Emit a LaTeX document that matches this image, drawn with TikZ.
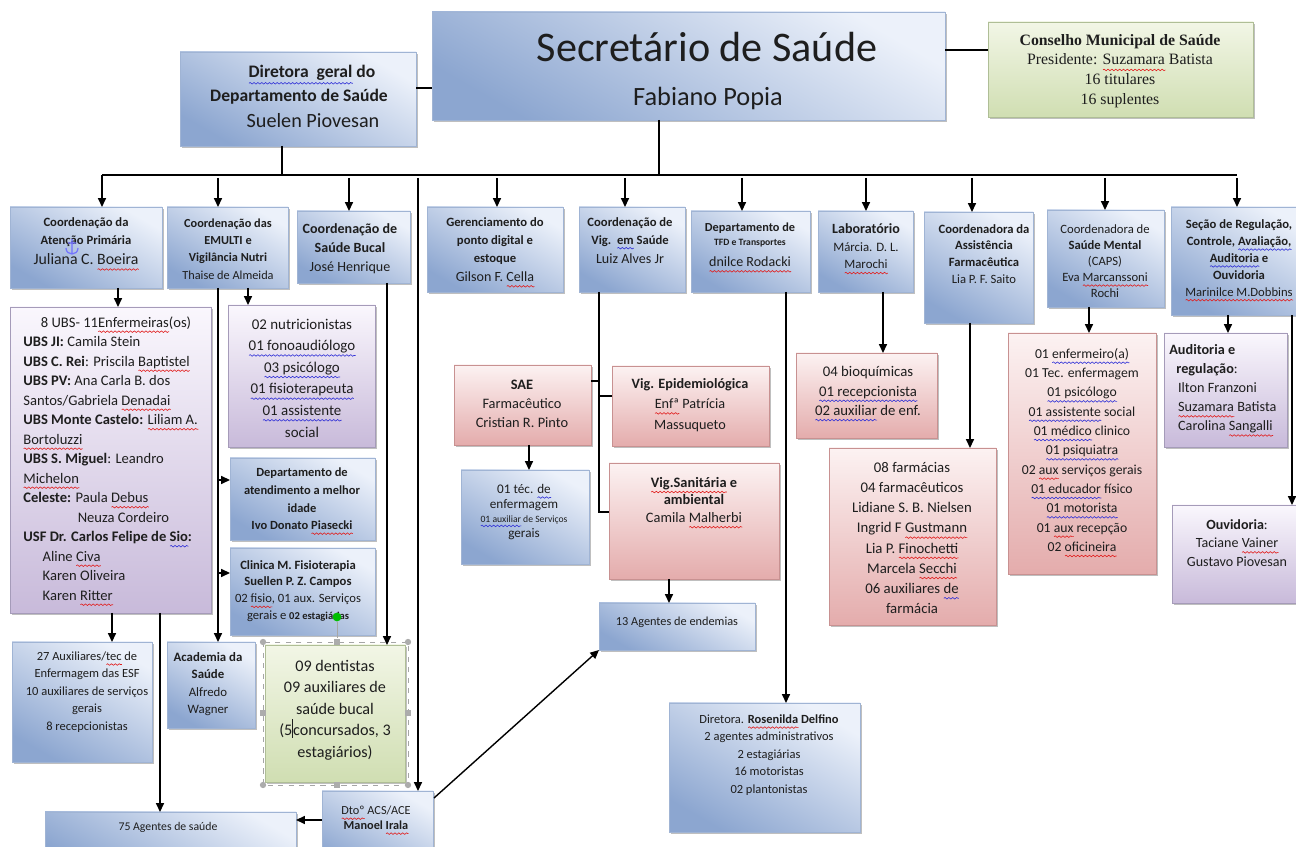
\documentclass[tikz,border=0pt]{standalone}
\usepackage{fontspec}
\setmainfont{Carlito}
\newfontfamily\cmsfont{Liberation Serif}
\usetikzlibrary{shadows,fit,arrows.meta,calc,decorations.pathmorphing}

\definecolor{bD}{RGB}{140,166,208}
\definecolor{bL}{RGB}{236,241,250}
\definecolor{bE}{RGB}{160,180,212}
\definecolor{pD}{RGB}{228,172,172}
\definecolor{pL}{RGB}{252,242,242}
\definecolor{pE}{RGB}{200,145,145}
\definecolor{lD}{RGB}{200,186,218}
\definecolor{lL}{RGB}{250,247,253}
\definecolor{lE}{RGB}{165,155,185}
\definecolor{gD}{RGB}{208,222,178}
\definecolor{gL}{RGB}{242,246,230}
\definecolor{gE}{RGB}{175,190,150}
\definecolor{txc}{RGB}{30,30,30}
\definecolor{sqr}{RGB}{225,30,30}
\definecolor{sqb}{RGB}{50,50,215}

\newsavebox\sqbox
\newcommand\wv[2]{\sbox\sqbox{#2}\leavevmode\rlap{\raisebox{-0.32em}[0pt][0pt]{\tikz[baseline=0pt]\draw[#1,line width=0.35pt,decorate,decoration={snake,amplitude=0.45pt,segment length=2.2pt}] (0pt,0pt) -- (\the\wd\sqbox,0pt);}}\usebox\sqbox}
\newcommand\rw[1]{\wv{sqr}{#1}}
\newcommand\bw[1]{\wv{sqb}{#1}}

\tikzset{
 box/.style={draw, line width=0.4pt, inner sep=0pt, outer sep=0pt,
   drop shadow={shadow xshift=1.3pt, shadow yshift=-1.3pt, opacity=0.55, fill=black!45}},
 bluebox/.style={box, draw=bE, top color=bL, bottom color=bD, shading angle=-30},
 pinkbox/.style={box, draw=pE, top color=pL, bottom color=pD},
 lavbox/.style={box, draw=lE, top color=lL, bottom color=lD},
 greenbox/.style={box, draw=gE, top color=gL, bottom color=gD},
 txt/.style={align=center, inner sep=0pt, text=txc},
 ln/.style={line width=0.8pt, black},
 arr/.style={ln, -{Triangle[length=5pt,width=4.5pt]}},
 handle/.style={fill=gray!65, inner sep=0pt, minimum size=3.6pt},
}

\begin{document}
\begin{tikzpicture}[x=0.02cm,y=-0.02cm]
\useasboundingbox (0,0) rectangle (1296,847);
\clip (0,0) rectangle (1296,847);
\fill[white] (0,0) rectangle (1296,847);

% ---------- boxes ----------
\node[bluebox, fit={(432,12) (945,120)}] (sec) {};
\node[greenbox, fit={(988,22) (1253,117)}] (cms) {};
\node[bluebox, fit={(180,52) (416,146)}] (dir) {};
\node[bluebox, fit={(10,207) (162,288)}] (atn) {};
\node[bluebox, fit={(167,207) (288,288)}] (emu) {};
\node[bluebox, fit={(297,211) (410,283)}] (buc) {};
\node[bluebox, fit={(427,207) (563,292)}] (ger) {};
\node[bluebox, fit={(579,207) (685,292)}] (vig) {};
\node[bluebox, fit={(691,211) (810,292)}] (tfd) {};
\node[bluebox, fit={(818,211) (913,292)}] (lab) {};
\node[bluebox, fit={(924,212) (1033,323)}] (far) {};
\node[bluebox, fit={(1047,210) (1164,307)}] (men) {};
\node[bluebox, fit={(1171,207) (1310,315)}] (reg) {};
\node[lavbox, fit={(10,307) (211,613)}] (ubs) {};
\node[lavbox, fit={(228,305) (375,447)}] (nut) {};
\node[bluebox, fit={(230,458) (375,540)}] (mid) {};
\node[bluebox, fit={(230,548) (375,635)}] (cli) {};
\node[bluebox, fit={(167,642) (255,728)}] (aca) {};
\node[bluebox, fit={(12,642) (152,762)}] (aux) {};
\node[greenbox, fit={(265,645) (405,782)}] (den) {};
\node[bluebox, fit={(45,812) (296,870)}] (age) {};
\node[bluebox, fit={(322,791) (433,870)}] (acs) {};
\node[pinkbox, fit={(454,365) (591,445)}] (sae) {};
\node[pinkbox, fit={(612,366) (769,446)}] (epi) {};
\node[bluebox, fit={(461,470) (589,564)}] (tec) {};
\node[pinkbox, fit={(609,463) (779,579)}] (san) {};
\node[bluebox, fit={(599,603) (755,650)}] (end) {};
\node[bluebox, fit={(669,703) (860,832)}] (ros) {};
\node[pinkbox, fit={(796,353) (937,438)}] (bio) {};
\node[pinkbox, fit={(829,448) (996,625)}] (fms) {};
\node[pinkbox, fit={(1008,333) (1156,574)}] (msf) {};
\node[lavbox, fit={(1164,333) (1287,447)}] (aud) {};
\node[lavbox, fit={(1172,505) (1310,603)}] (ouv) {};

% ---------- texts ----------
\node[txt, font=\fontsize{24}{28}\selectfont] (secA) at (707,47) {Secretário de Saúde};
\node[txt, font=\fontsize{15}{18}\selectfont] (secB) at (708,98) {Fabiano Popia};
\node[txt, font=\cmsfont\fontsize{9}{11.3}\selectfont] (cmsT) at (1120,71)
  {\textbf{Conselho Municipal de Saúde}\\Presidente: \rw{Suzamara} Batista\\16 titulares\\16 suplentes};
\node[txt, font=\bfseries\fontsize{10}{12}\selectfont] (dirA) at (312,73) {\bw{Diretora\ \ geral} do};
\node[txt, font=\bfseries\fontsize{10}{12}\selectfont] (dirB) at (299,97) {Departamento de Saúde};
\node[txt, font=\fontsize{11.5}{14}\selectfont] (dirC) at (313,121) {Suelen Piovesan};

\node[txt, font=\bfseries\fontsize{7.2}{10}\selectfont] (atnA) at (86,232) {Coordenação da\\Atenção Primária};
\node[txt, font=\fontsize{9}{11}\selectfont] (atnB) at (86,259) {Juliana C. \rw{Boeira}};
% Word anchor mark
\draw[blue!55, line width=0.7pt] (72,239) -- (72,254)
  (68,243) -- (76,243)
  (66,248) .. controls (66,256) and (78,256) .. (78,248);

\node[txt, font=\fontsize{7}{9.8}\selectfont] (emuT) at (228,249)
  {\textbf{Coordenação das}\\\textbf{EMULTI e}\\\textbf{Vigilância Nutri}\\Thaise de Almeida};
\node[txt, font=\fontsize{8}{10.8}\selectfont] (bucT) at (350,249)
  {\textbf{Coordenação de}\\\textbf{Saúde Bucal}\\José Henrique};
\node[txt, font=\bfseries\fontsize{7.2}{10}\selectfont] (gerA) at (495,241) {Gerenciamento do\\ponto digital e\\estoque};
\node[txt, font=\fontsize{8}{10}\selectfont] (gerB) at (495,277) {Gilson F. \rw{Cella}};
\node[txt, font=\bfseries\fontsize{7.2}{10}\selectfont] (vigA) at (630,232) {Coordenação de\\Vig.\ \ \bw{em} Saúde};
\node[txt, font=\fontsize{8}{10}\selectfont] (vigB) at (630,259) {Luiz Alves Jr};
\node[txt, font=\bfseries\fontsize{7}{9}\selectfont] (tfdA) at (750,228) {Departamento de};
\node[txt, font=\bfseries\fontsize{5.5}{7}\selectfont] (tfdB) at (750,243) {TFD e Transportes};
\node[txt, font=\fontsize{8}{10}\selectfont] (tfdC) at (750,262) {\rw{dnilce Rodacki}};
\node[txt, font=\bfseries\fontsize{8}{10}\selectfont] (labA) at (866,229) {Laboratório};
\node[txt, font=\fontsize{7.3}{9.8}\selectfont] (labB) at (866,256) {Márcia. D. L.\\\rw{Marochi}};
\node[txt, font=\fontsize{7.2}{9.6}\selectfont] (farT) at (984,254)
  {\textbf{Coordenadora da}\\\textbf{Assistência}\\\textbf{Farmacêutica}\\Lia P. F. Saito};
\node[txt, font=\fontsize{7.2}{9.2}\selectfont] (menT) at (1105,261)
  {Coordenadora de\\\textbf{Saúde Mental}\\(CAPS)\\Eva \rw{Marcanssoni}\\Rochi};
\node[txt, font=\fontsize{7.2}{9.6}\selectfont] (regT) at (1239,258)
  {\textbf{Seção de Regulação,}\\\textbf{Controle, \bw{Avaliação,}}\\\textbf{\bw{Auditoria} e}\\\textbf{Ouvidoria}\\\rw{Marinilce M.Dobbins}};

\node[txt, align=left, anchor=north west, font=\fontsize{8.3}{11.1}\selectfont] (ubsT) at (23,316)
  {\hspace*{10pt}8 UBS- 11\rw{Enfermeiras}(os)\\
   \textbf{UBS JI:} Camila Stein\\
   \textbf{UBS C. Rei}: Priscila \rw{Baptistel}\\
   \textbf{UBS PV:} Ana Carla B. dos\\
   Santos/Gabriela \rw{Denadai}\\
   \textbf{UBS Monte Castelo:} \rw{Liliam A.}\\
   \rw{Bortoluzzi}\\
   \textbf{UBS S. Miguel}: Leandro\\
   \rw{Michelon}\\
   \textbf{Celeste:} Paula \rw{Debus}\\
   \hspace*{31pt}Neuza Cordeiro\\
   \textbf{USF Dr. Carlos Felipe de \bw{Sio}:}\\
   \hspace*{11pt}Aline \rw{Civa}\\
   \hspace*{11pt}Karen Oliveira\\
   \hspace*{11pt}Karen \rw{Ritter}};
\node[txt, font=\fontsize{8.5}{12.3}\selectfont] (nutT) at (302,378)
  {02 nutricionistas\\\bw{01 fonoaudiólogo}\\\bw{03 psicólogo}\\\bw{01 fisioterapeuta}\\\bw{01 assistente}\\social};
\node[txt, font=\bfseries\fontsize{7.1}{10}\selectfont] (midT) at (302,499)
  {Departamento de\\atendimento a melhor\\idade\\Ivo Donato \rw{Piasecki}};
\node[txt, font=\fontsize{7.2}{9.6}\selectfont] (cliT) at (298,591)
  {\textbf{Clinica M. Fisioterapia}\\\textbf{Suellen P. Z. Campos}\\02 \rw{fisio}, 01 aux. Serviços\\gerais e {\bfseries\fontsize{6}{8}\selectfont 02 estagiárias}};
\node[txt, font=\fontsize{7.3}{9.9}\selectfont] (acaT) at (208,684)
  {\textbf{Academia da}\\\textbf{Saúde}\\Alfredo\\Wagner};
\node[txt, font=\fontsize{7.1}{9.9}\selectfont] (auxT) at (87,692)
  {27 Auxiliares/\rw{tec} de\\Enfermagem das ESF\\10 auxiliares de serviços\\gerais\\8 recepcionistas};
\node[txt, font=\fontsize{9.2}{12.2}\selectfont] (denT) at (335,710)
  {09 dentistas\\09 auxiliares de\\saúde bucal\\(5\rule[-0.3ex]{0.4pt}{2.4ex}concursados, 3\\estagiários)};
\node[txt, font=\fontsize{6.7}{8}\selectfont] (ageT) at (168,827) {75 Agentes de saúde};
\node[txt, font=\fontsize{7}{8.5}\selectfont] (acsT) at (376,818) {\rw{Dtoº} ACS/ACE\\\textbf{Manoel \rw{Irala}}};
\node[txt, font=\fontsize{7}{9}\selectfont] (endT) at (677,622) {13 Agentes de endemias};
\node[txt, font=\fontsize{7.1}{9.9}\selectfont] (rosT) at (769,755)
  {Diretora. \textbf{\rw{Rosenilda} Delfino}\\2 agentes administrativos\\2 estagiárias\\16 motoristas\\02 plantonistas};
\node[txt, font=\fontsize{8.2}{10.7}\selectfont] (saeT) at (522,404) {\textbf{SAE}\\Farmacêutico\\Cristian R. Pinto};
\node[txt, font=\fontsize{8.1}{11.5}\selectfont] (epiT) at (690,405) {\textbf{Vig. Epidemiológica}\\\rw{Enfª} Patrícia\\Massuqueto};
\node[txt, font=\fontsize{7.5}{8.4}\selectfont] (tecT) at (524,512)
  {01 téc. \bw{de}\\enfermagem\\{\fontsize{5.5}{8.4}\selectfont \bw{01 auxiliar} de Serviços}\\gerais};
\node[txt, font=\fontsize{8.2}{10}\selectfont] (sanT) at (694,500) {\textbf{\rw{Vig.Sanitária} e}\\\textbf{ambiental}\\Camila \rw{Malherbi}};
\node[txt, font=\fontsize{8.4}{11}\selectfont] (bioT) at (868,391) {04 bioquímicas\\\bw{01 recepcionista}\\\bw{02 auxiliar} de enf.};
\node[txt, font=\fontsize{8.4}{11.5}\selectfont] (fmsT) at (912,538)
  {08 farmácias\\04 farmacêuticos\\Lidiane S. B. Nielsen\\Ingrid F \rw{Gustmann}\\Lia P. \rw{Finochetti}\\Marcela \rw{Secchi}\\06 auxiliares \bw{de}\\farmácia};
\node[txt, font=\fontsize{7.8}{11}\selectfont] (msfT) at (1082,450)
  {01 \bw{enfermeiro(a)}\\01 Tec. enfermagem\\\bw{01 psicólogo}\\\bw{01 assistente} social\\\bw{01 médico} clinico\\\bw{01 psiquiatra}\\02 \rw{aux} serviços gerais\\\bw{01 educador} físico\\\bw{01 motorista}\\01 \rw{aux} recepção\\02 \rw{oficineira}};
\node[txt, align=left, anchor=north west, font=\fontsize{8.1}{10.9}\selectfont] (audT) at (1169,344)
  {\textbf{Auditoria e}\\\hspace*{4pt}\textbf{regulação}:\\\hspace*{5pt}Ilton Franzoni\\\hspace*{5pt}\rw{Suzamara} Batista\\\hspace*{5pt}Carolina \rw{Sangalli}};
\node[txt, font=\fontsize{8}{10.5}\selectfont] (ouvT) at (1237,543) {\textbf{Ouvidoria}:\\Taciane \rw{Vainer}\\Gustavo Piovesan};

% ---------- connectors ----------
\coordinate (bL) at (102,175);
\coordinate (bR) at (1237,175);
\coordinate (y50) at (0,50);
\coordinate (y88) at (0,88);
\draw[ln] (bL) -- (bR);
\draw[ln] (sec.east |- y50) -- (cms.west |- y50);
\draw[ln] (dir.east |- y88) -- (sec.west |- y88);
\coordinate (x282) at (282,0);
\coordinate (x659) at (659,0);
\draw[ln] (x282 |- dir.south) -- (x282 |- bL);
\draw[ln] (x659 |- sec.south) -- (x659 |- bL);
\draw[arr] (bL) -- (bL |- atn.north);
\foreach \x/\n in {218/emu,349/buc,497/ger,625/vig,742/tfd,866/lab,972/far,1105/men,1237/reg}{
  \coordinate (tap) at (\x,178);
  \draw[arr] (tap) -- (tap |- \n.north);
}
\coordinate (t418) at (418,178);
\draw[arr] (t418) -- (t418 |- acs.north);

\coordinate (x118) at (118,0);
\draw[arr] (x118 |- atn.south) -- (x118 |- ubs.north);
\coordinate (x248) at (248,0);
\draw[arr] (x248 |- emu.south) -- (x248 |- nut.north);
\coordinate (x218) at (218,0);
\coordinate (y480) at (0,480);
\coordinate (y573) at (0,573);
\draw[arr] (x218 |- emu.south) -- (x218 |- aca.north);
\draw[arr] (x218 |- y480) -- (mid.west |- y480);
\draw[arr] (x218 |- y573) -- (cli.west |- y573);
\coordinate (x387) at (387,0);
\draw[arr] (x387 |- buc.south) -- (x387 |- den.north);
\coordinate (x112) at (112,0);
\draw[arr] (x112 |- ubs.south) -- (x112 |- aux.north);
\coordinate (x160) at (160,0);
\draw[arr] (x160 |- ubs.south) -- (x160 |- age.north);
\coordinate (y820) at (0,820);
\draw[arr] (acs.west |- y820) -- (age.east |- y820);
\coordinate (acsA) at (434,798);
\draw[arr] (acsA) -- (end.south west);

\coordinate (x599) at (599,0);
\coordinate (y381) at (0,381);
\coordinate (y396) at (0,396);
\coordinate (y512) at (0,512);
\draw[ln] (x599 |- vig.south) -- (x599 |- y512) -- (san.west |- y512);
\draw[ln] (sae.east |- y381) -- (x599 |- y381);
\draw[ln] (x599 |- y396) -- (epi.west |- y396);
\coordinate (x669) at (669,0);
\draw[arr] (x669 |- san.south) -- (x669 |- end.north);
\coordinate (x529) at (529,0);
\draw[arr] (x529 |- sae.south) -- (x529 |- tec.north);
\coordinate (x786) at (786,0);
\draw[arr] (x786 |- tfd.south) -- (x786 |- ros.north);
\coordinate (x883) at (883,0);
\draw[arr] (x883 |- lab.south) -- (x883 |- bio.north);
\coordinate (x970) at (970,0);
\draw[arr] (x970 |- far.south) -- (x970 |- fms.north);
\coordinate (x1089) at (1089,0);
\draw[arr] (x1089 |- men.south) -- (x1089 |- msf.north);
\coordinate (x1228) at (1228,0);
\draw[arr] (x1228 |- reg.south) -- (x1228 |- aud.north);
\coordinate (x1292) at (1292,0);
\draw[arr] (x1292 |- reg.south) -- (x1292 |- ouv.north);

% ---------- selection frame on the dentist box ----------
\draw[gray!70, dashed, line width=0.4pt] (263,642) rectangle (408,785);
\node[handle, circle] (hA) at (263,642) {};
\node[handle, circle] (hB) at (408,642) {};
\node[handle, circle] (hC) at (263,785) {};
\node[handle, circle] (hD) at (408,785) {};
\node[handle] (hT) at (337,642) {};
\node[handle] (hBo) at (337,785) {};
\node[handle] (hL) at (263,713) {};
\node[handle] (hR) at (408,713) {};
\node[circle, fill=green!75!black, inner sep=0pt, minimum size=5pt] (hG) at (337,617) {};
\draw[gray!70, line width=0.5pt] (hG) -- (hT);
\end{tikzpicture}
\end{document}
